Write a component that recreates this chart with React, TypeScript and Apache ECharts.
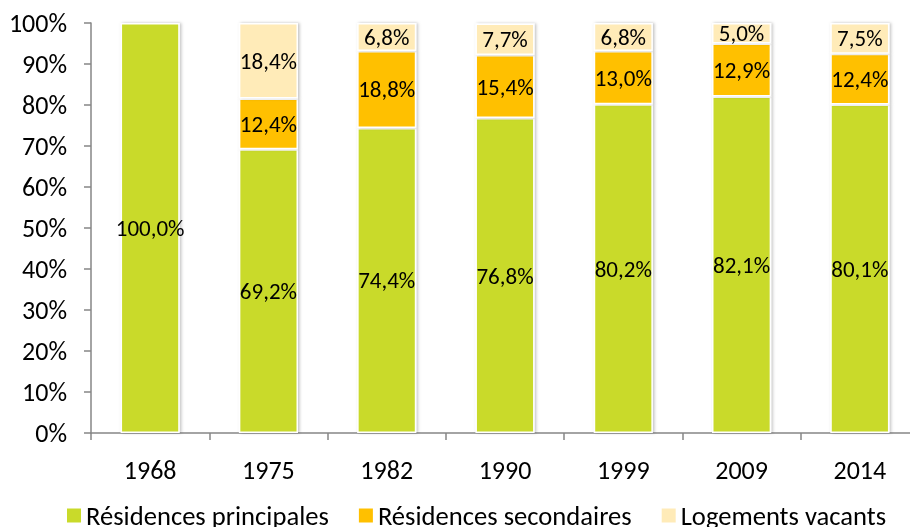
import React, { useEffect, useRef } from "react";
import * as echarts from "echarts";

const categories = ["1968", "1975", "1982", "1990", "1999", "2009", "2014"];
const principales = [100.0, 69.2, 74.4, 76.8, 80.2, 82.1, 80.1];
const secondaires = [null, 12.4, 18.8, 15.4, 13.0, 12.9, 12.4];
const vacants = [null, 18.4, 6.8, 7.7, 6.8, 5.0, 7.5];
const seriesNames = ["Résidences principales", "Résidences secondaires", "Logements vacants"];
const colors = ["#C9DA2A", "#FFC000", "#FFEBB8"];

const FONT = "Carlito, Lato, 'Open Sans', sans-serif";

export default function App() {
  const ref = useRef<HTMLDivElement>(null);
  useEffect(() => {
    if (!ref.current) return;
    const chart = echarts.init(ref.current, null, { renderer: "svg" });
    const mk = (name: string, data: (number | null)[], color: string) => ({
      name,
      type: "bar",
      stack: "total",
      data,
      barCategoryGap: "50%",
      itemStyle: {
        color,
        borderColor: "#ffffff",
        borderWidth: 1.5,
        shadowColor: "rgba(0,0,0,0.25)",
        shadowBlur: 3,
        shadowOffsetX: 1.5,
      },
      label: {
        show: true,
        position: "inside",
        color: "#000",
        fontFamily: FONT,
        fontSize: 23,
        formatter: (p: any) => p.value == null ? "" : p.value.toFixed(1).replace(".", ",") + "%",
      },
    });
    chart.setOption({
      animation: false,
      color: colors,
      grid: { left: 91, top: 23, height: 410, width: 828, containLabel: false },
      legend: {
        left: 60,
        top: 497,
        itemWidth: 16,
        itemHeight: 16,
        itemGap: 28,
        icon: "rect",
        textStyle: { fontFamily: FONT, fontSize: 26.6, color: "#000", padding: [0, 0, 0, -1] },
        data: seriesNames,
      },
      xAxis: {
        type: "category",
        data: categories,
        axisLine: { lineStyle: { color: "#868686", width: 1.5 } },
        axisTick: { show: true, length: 7, lineStyle: { color: "#868686", width: 1.5 } },
        axisLabel: { color: "#000", fontFamily: FONT, fontSize: 26, margin: 24 },
      },
      yAxis: {
        type: "value",
        min: 0,
        max: 100,
        interval: 10,
        splitLine: { show: false },
        axisLine: { show: true, lineStyle: { color: "#868686", width: 1.5 } },
        axisTick: { show: true, length: 7, lineStyle: { color: "#868686", width: 1.5 } },
        axisLabel: { color: "#000", fontFamily: FONT, fontSize: 26, margin: 24, formatter: "{value}%" },
      },
      series: [
        mk(seriesNames[0], principales, colors[0]),
        mk(seriesNames[1], secondaires, colors[1]),
        mk(seriesNames[2], vacants, colors[2]),
      ],
    });
    return () => chart.dispose();
  }, []);
  return (
    <div style={{ position: "fixed", left: 0, top: 0, width: 910, height: 527, overflow: "hidden" }}>
      <div ref={ref} style={{ width: 940, height: 527 }} />
    </div>
  );
}
